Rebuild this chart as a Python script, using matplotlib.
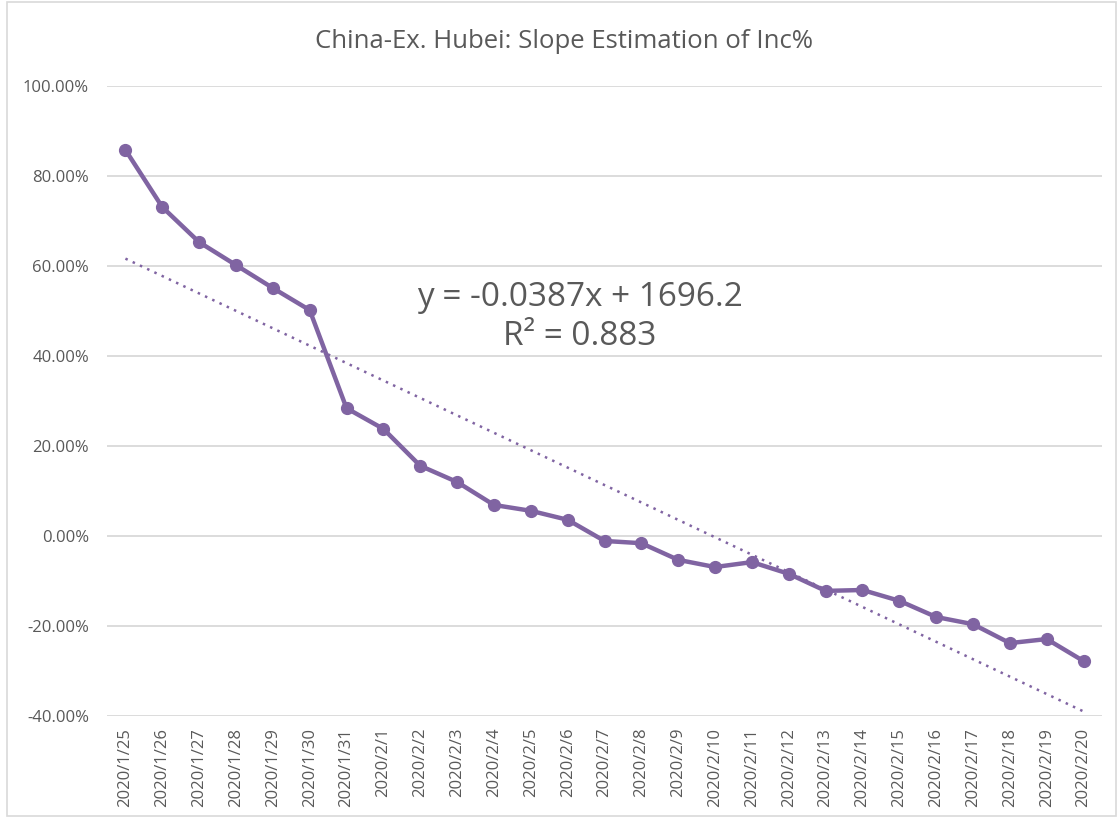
import matplotlib
matplotlib.use("Agg")
import matplotlib.pyplot as plt
import numpy as np
from matplotlib.ticker import FuncFormatter
from matplotlib.patches import Rectangle

dates = ["2020/1/25", "2020/1/26", "2020/1/27", "2020/1/28", "2020/1/29", "2020/1/30",
         "2020/1/31", "2020/2/1", "2020/2/2", "2020/2/3", "2020/2/4", "2020/2/5",
         "2020/2/6", "2020/2/7", "2020/2/8", "2020/2/9", "2020/2/10", "2020/2/11",
         "2020/2/12", "2020/2/13", "2020/2/14", "2020/2/15", "2020/2/16", "2020/2/17",
         "2020/2/18", "2020/2/19", "2020/2/20"]
inc_pct = [85.8, 73.1, 65.3, 60.2, 55.1, 50.2, 28.4, 23.8, 15.6, 12.0, 6.9, 5.6, 3.6,
           -1.1, -1.6, -5.3, -6.9, -5.8, -8.4, -12.2, -12.0, -14.4, -18.0, -19.6,
           -23.8, -22.9, -27.8]
y_ticks = [-40, -20, 0, 20, 40, 60, 80, 100]
title = "China-Ex. Hubei: Slope Estimation of Inc%"
eq_text = "y = -0.0387x + 1696.2\nR\u00b2 = 0.883"

plt.rcParams['font.family'] = ['Open Sans', 'DejaVu Sans']
purple = "#8064A2"
grey_text = "#595959"

fig = plt.figure(figsize=(11.2, 8.23), dpi=100)
ax = fig.add_axes([107/1120, 1-716/823, (1102-107)/1120, (716-86)/823])

x = np.arange(len(dates))
vals = np.array(inc_pct)
coef = np.polyfit(x, vals, 1)
trend = np.polyval(coef, x)

ax.plot(x, trend, linestyle=(0, (1, 2.2)), color=purple, lw=1.8, zorder=3)
ax.plot(x, vals, color=purple, lw=3.2, marker='o', markersize=8.5, zorder=4,
        solid_joinstyle='round')

ax.set_xlim(-0.5, len(dates) - 0.5)
ax.set_ylim(-40, 100)
ax.set_yticks(y_ticks)
ax.yaxis.set_major_formatter(FuncFormatter(lambda v, p: f"{v:.2f}%"))
ax.set_xticks(x)
ax.set_xticklabels(dates, rotation=90, va='top', ha='center')
ax.tick_params(axis='both', length=0, colors=grey_text, labelsize=12)
ax.tick_params(axis='y', pad=13)
ax.tick_params(axis='x', pad=8.5)
ax.grid(axis='y', color="#D9D9D9", lw=1.3)
ax.set_axisbelow(True)
for s in ax.spines.values():
    s.set_visible(False)

fig.text(564/1120, 1 - 42/823, title, ha='center', va='center',
         fontsize=18.5, color=grey_text)
fig.text(580/1120, 1 - 317/823, eq_text, ha='center', va='center',
         fontsize=24, color=grey_text, linespacing=1.2)

fig.patches.append(Rectangle((0.006, 0.008), 0.99, 0.99, transform=fig.transFigure,
                             fill=False, edgecolor="#D9D9D9", lw=1.2))

fig.savefig("out.png", dpi=100, facecolor="white")
